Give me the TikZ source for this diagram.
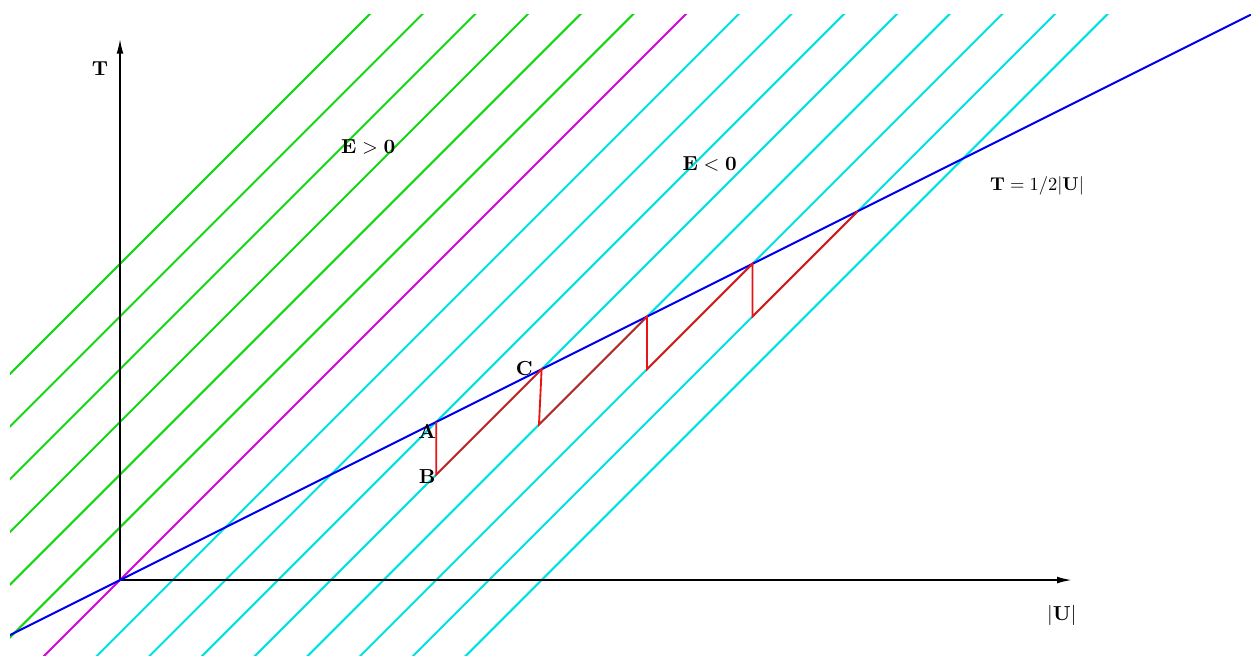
\documentclass[tikz,border=0pt]{standalone}
\usepackage{amsmath}
\usetikzlibrary{arrows.meta,positioning}
\definecolor{lvlgreen}{RGB}{20,215,20}
\definecolor{lvlmagenta}{RGB}{215,0,225}
\definecolor{lvlcyan}{RGB}{0,225,225}
\definecolor{lvlblue}{RGB}{0,0,240}
\definecolor{lvlred}{RGB}{230,20,20}

\begin{document}
\begin{tikzpicture}[
every node/.style={inner sep=1pt,font=\fontsize{10.5}{12}\selectfont},
axis/.style={line width=0.9pt,-{Latex[length=2.8mm,width=1.3mm]}},
level/.style={line width=1.1pt},
poslevel/.style={level,lvlgreen},
zerolevel/.style={level,lvlmagenta},
neglevel/.style={level,lvlcyan}]
\useasboundingbox (-2.277,-1.423) rectangle (21.46,11.006);
\coordinate (O) at (0,0);
\coordinate (Tend) at (0,10.27);
\coordinate (Uend) at (18.06,0);
\coordinate (A) at (6,3);
\coordinate (B) at (6,2);
\coordinate (C) at (8,4);
\coordinate (D) at (7.95,2.95);
\coordinate (E) at (10,5);
\coordinate (F) at (10,4);
\coordinate (G) at (12,6);
\coordinate (H) at (12,5);
\coordinate (K) at (14,7);
\begin{scope}
\clip (-2.087,-1.423) rectangle (21.46,10.74);
% energy levels
\draw[poslevel] (-10,-4)--(6,12);
\draw[poslevel] (-9,-4)--(7,12);
\draw[poslevel] (-8,-4)--(8,12);
\draw[poslevel] (-7,-4)--(9,12);
\draw[poslevel] (-6,-4)--(10,12);
\draw[poslevel] (-5,-4)--(11,12);
\draw[zerolevel] (-4,-4)--(12,12);
\draw[neglevel] (-3,-4)--(13,12);
\draw[neglevel] (-2,-4)--(14,12);
\draw[neglevel] (-1,-4)--(15,12);
\draw[neglevel] (0,-4)--(16,12);
\draw[neglevel] (1,-4)--(17,12);
\draw[neglevel] (2,-4)--(18,12);
\draw[neglevel] (3,-4)--(19,12);
\draw[neglevel] (4,-4)--(20,12);
\draw[axis] (O)--(Tend);
\draw[axis] (O)--(Uend);
\draw[lvlblue,line width=1.1pt] (-4,-2)--(24,12);
\end{scope}
\draw[lvlred,line width=1pt] (A)--(B)--(C)--(D)--(E)--(F)--(G)--(H)--(K);
\node (labA) at (5.83,2.81) {$\mathbf{A}$};
\node (labB) at (5.83,1.96) {$\mathbf{B}$};
\node (labC) at (7.67,4.01) {$\mathbf{C}$};
\node (labEpos) at (4.71,8.22) {$\mathbf{E} > \mathbf{0}$};
\node (labEneg) at (11.19,7.89) {$\mathbf{E} < \mathbf{0}$};
\node[font=\normalsize] (labline) at (17.40,7.48) {$\mathbf{T} = 1/2|\mathbf{U}|$};
\node (labT) at (-0.38,9.70) {$\mathbf{T}$};
\node (labU) at (17.87,-0.68) {$|\mathbf{U}|$};
\end{tikzpicture}
\end{document}
